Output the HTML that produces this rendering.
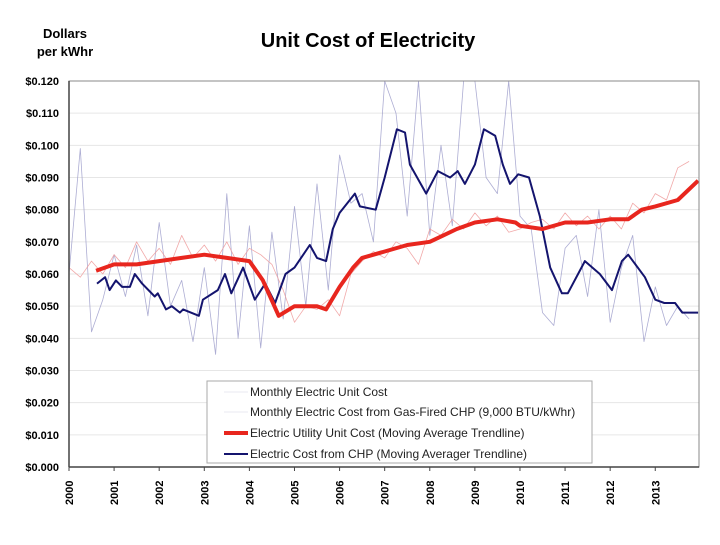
<!DOCTYPE html>
<html><head><meta charset="utf-8"><style>
body{margin:0;background:#fff;}
svg text{font-family:"Liberation Sans",Arial,sans-serif;}
</style></head><body>
<svg width="720" height="540" viewBox="0 0 720 540">
<text x="368" y="47" text-anchor="middle" font-size="20" font-weight="bold">Unit Cost of Electricity</text>
<text x="65" y="38" text-anchor="middle" font-size="13" font-weight="bold">Dollars</text>
<text x="65" y="56" text-anchor="middle" font-size="13" font-weight="bold">per kWhr</text>
<g id="grid"></g>
<g id="series"></g>
<rect x="69" y="81" width="630" height="386" fill="none" stroke="#888" stroke-width="1"/>
<line x1="69" y1="81" x2="69" y2="467" stroke="#444" stroke-width="1.5"/>
<line x1="69" y1="467" x2="699" y2="467" stroke="#444" stroke-width="1.5"/>
<g id="ticks"></g>
<g>
<rect x="207" y="381" width="385" height="82" fill="#fff" stroke="#aaa"/>
<g><line x1="224" y1="392" x2="248" y2="392" stroke="#e8e8f0" stroke-width="1"/><text x="250" y="396" font-size="12" fill="#222">Monthly Electric Unit Cost</text></g>
<g><line x1="224" y1="412" x2="248" y2="412" stroke="#e8e8f0" stroke-width="1"/><text x="250" y="416" font-size="12" fill="#222">Monthly Electric Cost from Gas-Fired CHP (9,000 BTU/kWhr)</text></g>
<g><line x1="224" y1="433" x2="248" y2="433" stroke="#e8261e" stroke-width="4"/><text x="250" y="437" font-size="12" fill="#222">Electric Utility Unit Cost (Moving Average Trendline)</text></g>
<g><line x1="224" y1="454" x2="248" y2="454" stroke="#14146e" stroke-width="2"/><text x="250" y="458" font-size="12" fill="#222">Electric Cost from CHP (Moving Averager Trendline)</text></g>
</g>
</svg>
<script>
const yTicks=[0,0.01,0.02,0.03,0.04,0.05,0.06,0.07,0.08,0.09,0.10,0.11,0.12];
const years=[2000,2001,2002,2003,2004,2005,2006,2007,2008,2009,2010,2011,2012,2013];
const noisyStart=2000, noisyStep=0.25;
const chpMonthly=[.060,.099,.042,.052,.066,.053,.069,.047,.076,.050,.058,.039,.062,.035,.085,.040,.075,.037,.073,.046,.081,.050,.088,.055,.097,.082,.085,.070,.120,.110,.078,.120,.072,.100,.075,.120,.120,.090,.085,.120,.078,.074,.048,.044,.068,.072,.053,.080,.045,.062,.072,.039,.056,.044,.050,.046];
const utilMonthly=[.062,.059,.064,.060,.066,.062,.070,.064,.068,.063,.072,.065,.069,.064,.070,.063,.068,.066,.063,.055,.045,.050,.049,.052,.047,.060,.064,.067,.065,.070,.068,.063,.074,.072,.077,.074,.079,.075,.078,.073,.074,.076,.077,.074,.079,.075,.078,.074,.078,.074,.082,.079,.085,.083,.093,.095];
const utilTrendT=[2000.6,2001,2001.5,2002,2002.5,2003,2003.5,2004,2004.3,2004.65,2005,2005.5,2005.7,2006,2006.3,2006.5,2007,2007.5,2008,2008.3,2008.6,2009,2009.5,2009.9,2010,2010.5,2011,2011.5,2012,2012.4,2012.7,2013,2013.5,2013.95];
const utilTrendV=[.061,.063,.063,.064,.065,.066,.065,.064,.058,.047,.050,.050,.049,.056,.062,.065,.067,.069,.070,.072,.074,.076,.077,.076,.075,.074,.076,.076,.077,.077,.080,.081,.083,.089];
const chpTrendT=[2000.62,2000.8,2000.9,2001.04,2001.18,2001.35,2001.46,2001.62,2001.9,2001.97,2002.15,2002.28,2002.46,2002.53,2002.88,2002.97,2003.3,2003.46,2003.6,2003.86,2004.12,2004.35,2004.57,2004.8,2005.0,2005.34,2005.5,2005.7,2005.85,2006.0,2006.34,2006.45,2006.8,2007.0,2007.27,2007.45,2007.56,2007.92,2008.18,2008.45,2008.62,2008.78,2009.0,2009.2,2009.45,2009.62,2009.78,2009.96,2010.2,2010.44,2010.67,2010.93,2011.06,2011.44,2011.77,2012.04,2012.26,2012.4,2012.77,2013.0,2013.2,2013.44,2013.6,2013.95];
const chpTrendV=[.057,.059,.055,.058,.056,.056,.060,.057,.053,.054,.049,.050,.048,.049,.047,.052,.055,.060,.054,.062,.052,.057,.051,.060,.062,.069,.065,.064,.074,.079,.085,.081,.080,.090,.105,.104,.094,.085,.092,.090,.092,.088,.094,.105,.103,.094,.088,.091,.090,.078,.062,.054,.054,.064,.060,.055,.064,.066,.059,.052,.051,.051,.048,.048];
</script>
<script>
const NS="http://www.w3.org/2000/svg";
const X0=69,X1=699,Y0=467,Y1=81,T0=2000,T1=2013.97;
function xs(t){return X0+(t-T0)/(T1-T0)*(X1-X0);}
function ys(v){return Y0-v/0.12*(Y0-Y1);}
const grid=document.getElementById('grid'),ticks=document.getElementById('ticks'),ser=document.getElementById('series');
yTicks.forEach(v=>{
 const l=document.createElementNS(NS,'line');
 l.setAttribute('x1',X0);l.setAttribute('x2',X1);l.setAttribute('y1',ys(v));l.setAttribute('y2',ys(v));
 l.setAttribute('stroke','#e6e6e6');
 
 
 grid.appendChild(l);
 const t=document.createElementNS(NS,'text');
 t.setAttribute('x',59);t.setAttribute('y',ys(v)+4);t.setAttribute('text-anchor','end');
 t.setAttribute('font-size','11');t.setAttribute('font-weight','bold');
 t.textContent='$'+v.toFixed(3);
 
 
 ticks.appendChild(t);
});
years.forEach(y=>{
 const x=xs(y);
 const l=document.createElementNS(NS,'line');
 l.setAttribute('x1',x);l.setAttribute('x2',x);l.setAttribute('y1',Y0);l.setAttribute('y2',Y0+4);l.setAttribute('stroke','#444');
 
 
 ticks.appendChild(l);
 const t=document.createElementNS(NS,'text');
 t.setAttribute('transform','translate('+(x+4)+',505) rotate(-90)');
 t.setAttribute('font-size','11');t.setAttribute('font-weight','bold');
 t.textContent=y;
 
 
 ticks.appendChild(t);
});
function clampV(v){return Math.min(0.12,v);}
function path(ts,vs,color,w,name,op){
 const p=document.createElementNS(NS,'polyline');
 p.setAttribute('points',vs.map((v,i)=>xs(Math.min(ts[i],T1)).toFixed(1)+','+ys(clampV(v)).toFixed(1)).join(' '));
 p.setAttribute('fill','none');p.setAttribute('stroke',color);p.setAttribute('stroke-width',w);
 p.setAttribute('stroke-linejoin','round');
 if(op)p.setAttribute('stroke-opacity',op);
 
 
 ser.appendChild(p);
}
const nt=chpMonthly.map((_,i)=>noisyStart+i*noisyStep);
path(nt,chpMonthly,'#9898c8',0.8,'chp-monthly-line',0.8);
path(nt,utilMonthly,'#f0a0a0',0.8,'utility-monthly-line',0.9);
path(chpTrendT,chpTrendV,'#14146e',2,'chp-trendline');
path(utilTrendT,utilTrendV,'#e8261e',4,'utility-trendline');
</script>
</body></html>
